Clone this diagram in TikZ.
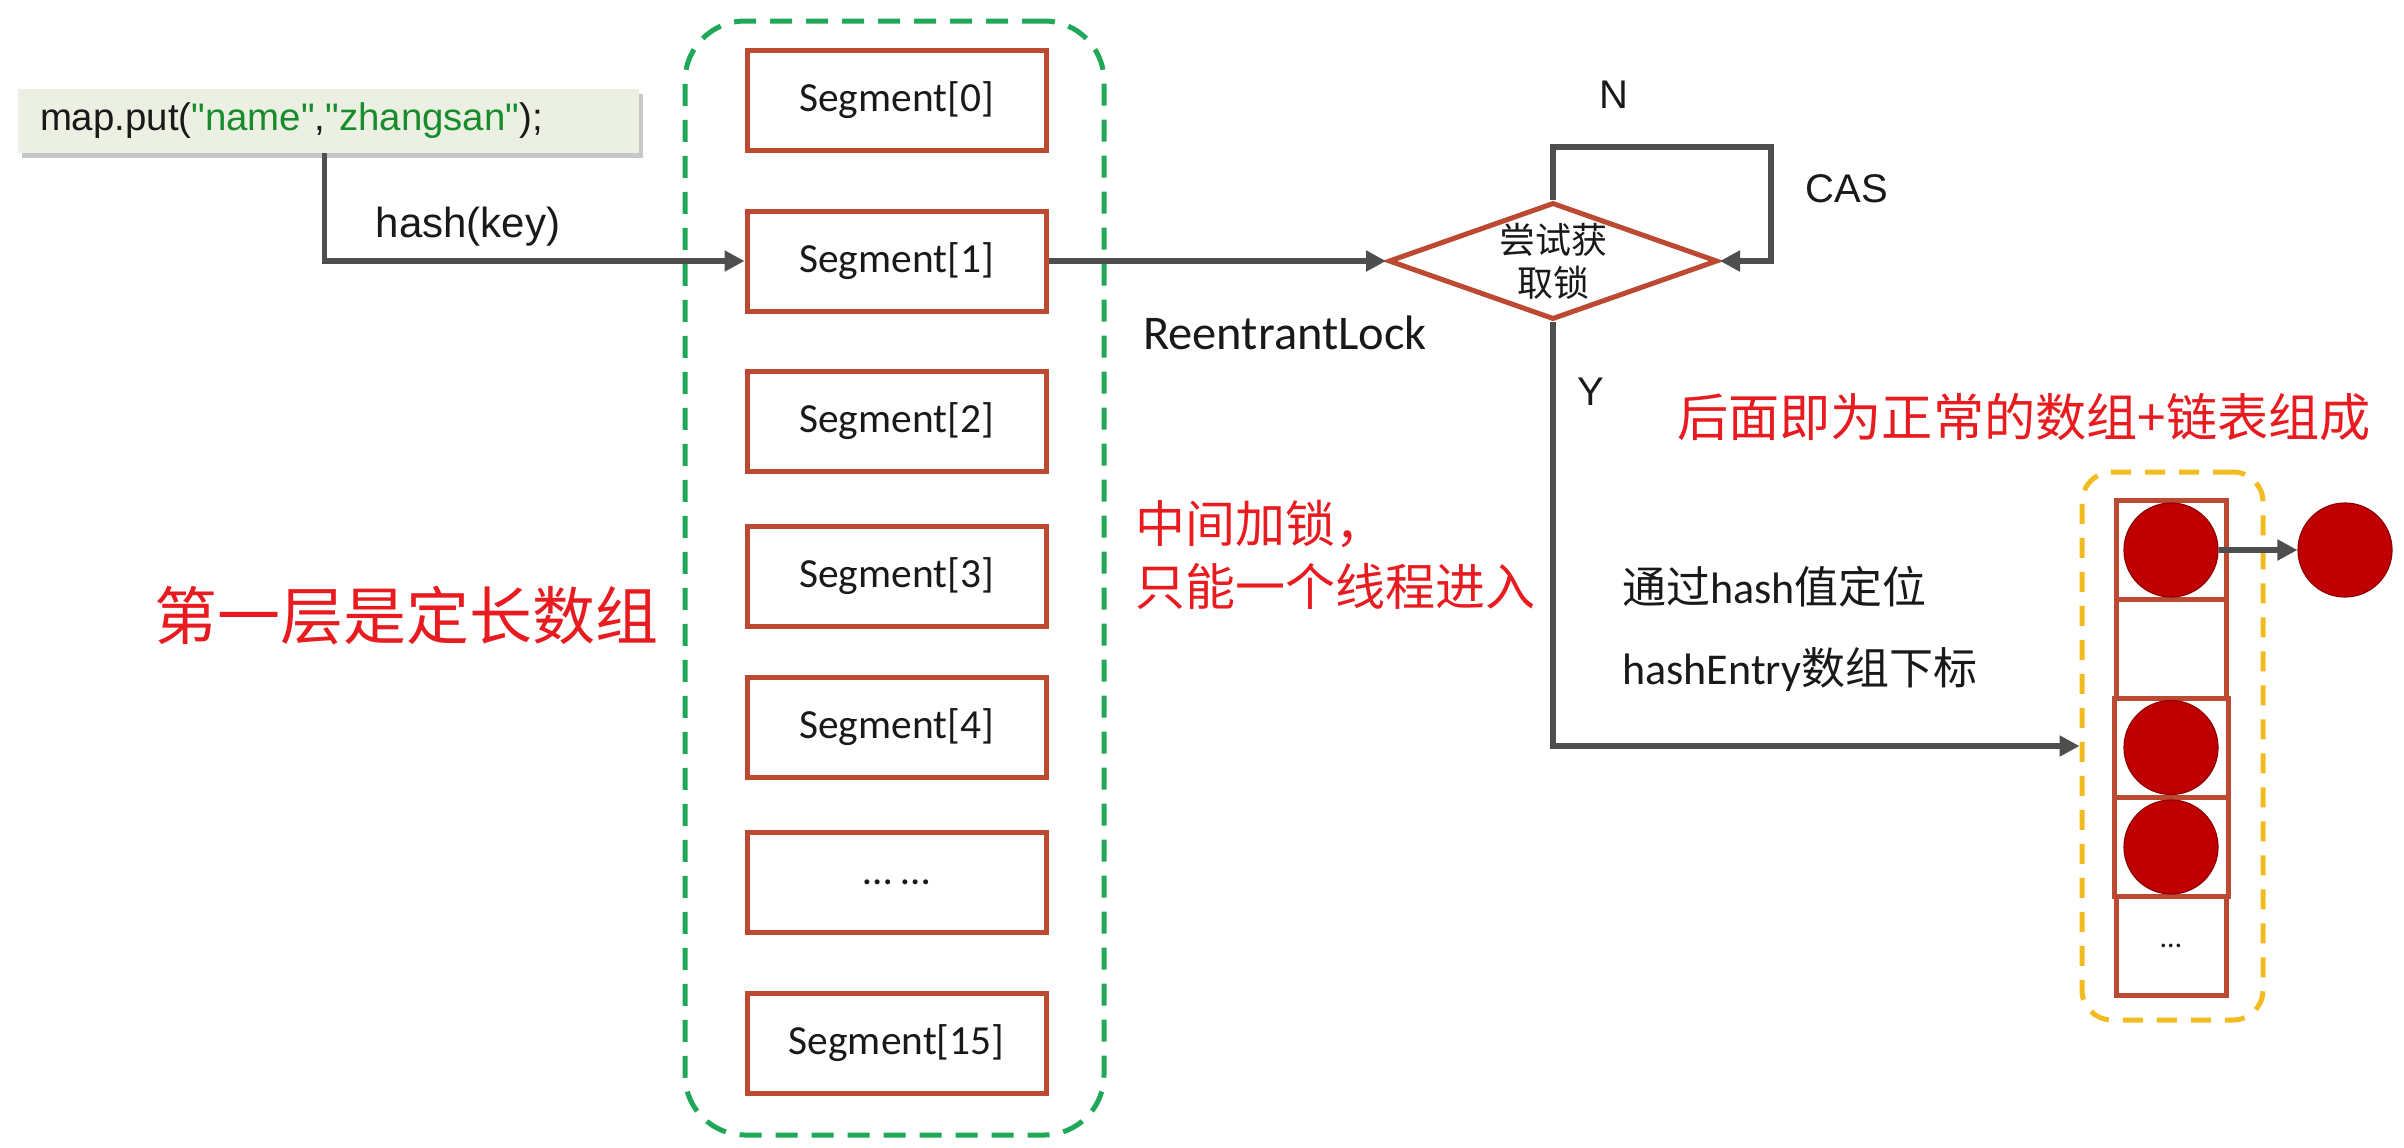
\documentclass[tikz,border=0pt]{standalone}
\usepackage{fontspec}
\setmainfont{Carlito}
\newfontfamily\arial{Liberation Sans}
\newfontfamily\cjk{Noto Sans CJK SC}
\usetikzlibrary{arrows.meta,shapes.geometric,shadows}
\definecolor{segred}{RGB}{188,74,50}
\definecolor{dashgreen}{RGB}{30,168,88}
\definecolor{dashyellow}{RGB}{242,188,32}
\definecolor{linegray}{RGB}{78,78,78}
\definecolor{txtred}{RGB}{232,28,32}
\definecolor{txtblack}{RGB}{25,25,25}
\definecolor{codebg}{RGB}{236,240,226}
\definecolor{codegreen}{RGB}{24,140,44}
\definecolor{ballred}{RGB}{192,0,0}
\begin{document}
\begin{tikzpicture}[x=0.5pt,y=-0.5pt,
  seg/.style={draw=segred, line width=2.5pt, minimum width=149.5pt, minimum height=50pt, inner sep=0pt, font=\fontsize{20.7}{24}\selectfont, text=txtblack},
  conn/.style={draw=linegray, line width=2.6pt, -{Triangle[length=10pt,width=10pt]}},
  codebox/.style={fill=codebg, minimum width=310.5pt, minimum height=32pt, inner xsep=11pt, inner ysep=0pt, text width=288.5pt, align=left, font=\arial\fontsize{19.2}{22}\selectfont, text=txtblack, drop shadow={shadow xshift=2pt, shadow yshift=-2.5pt, fill=black, opacity=0.22}},
  gbox/.style={draw=dashgreen, line width=2.5pt, dash pattern=on 11pt off 7pt, rounded corners=30pt, minimum width=209.5pt, minimum height=557pt, inner sep=0pt},
  ybox/.style={draw=dashyellow, line width=2.5pt, dash pattern=on 10pt off 7pt, rounded corners=15pt, minimum width=90.5pt, minimum height=274pt, inner sep=0pt},
  cell/.style={draw=segred, line width=2.5pt, minimum width=55pt, minimum height=49.5pt, inner sep=0pt, font=\fontsize{15}{17}\selectfont, text=txtblack},
  ball/.style={circle, fill=ballred, draw=ballred!75!black, line width=0.6pt, minimum size=47pt, inner sep=0pt},
  lbl/.style={font=\arial\fontsize{20}{24}\selectfont, text=txtblack, inner sep=0pt},
  redtxt/.style={text=txtred, inner sep=0pt},
]
\fill[white] (0,0) rectangle (2404,1147);
\useasboundingbox (0,0) rectangle (2404,1147);

% code box
\node[codebox] (code) at (328.5,121) {map.put({\color{codegreen}"name"},{\color{codegreen}"zhangsan"});};

% green container and segments
\node[gbox] (grp) at (894.5,578) {};
\node[seg] (s0) at (896.5,100) {Segment[0]};
\node[seg] (s1) at (896.5,261) {Segment[1]};
\node[seg] (s2) at (896.5,421) {Segment[2]};
\node[seg] (s3) at (896.5,576) {Segment[3]};
\node[seg] (s4) at (896.5,727) {Segment[4]};
\node[seg] (s5) at (896.5,882) {\textellipsis\ \textellipsis};
\node[seg] (s15) at (896.5,1043) {Segment[15]};

% hash arrow
\draw[conn] ([xshift=153.5pt]code.south west) |- (s1.west);
\node[lbl, font=\arial\fontsize{21}{24}\selectfont] (hk) at (468,227) {hash(key)};

% diamond
\node[diamond, draw=segred, line width=2.5pt, aspect=2.81, minimum width=164.5pt, minimum height=58.5pt, inner sep=0pt] (dia) at (1553,261) {};
\node[align=center, inner sep=0pt, text=txtblack, font=\cjk\fontsize{18}{21.5}\selectfont] (dtext) at (dia.center) {尝试获\\取锁};
\draw[conn] (s1.east) -- (dia.west);
\node[font=\fontsize{24.2}{28}\selectfont, text=txtblack, inner sep=0pt] (rl) at (1285,333) {ReentrantLock};

% CAS loop
\coordinate (loopc) at (1771,147);
\draw[conn] (dia.north) |- (loopc) |- (dia.east);
\node[lbl] (nl) at (1614,95) {N};
\node[lbl] (casl) at (1847,189) {CAS};
\node[lbl] (yl) at (1591,392) {Y};

% right array
\node[ybox] (yel) at (2172.5,746) {};
\node[cell] (c1) at (2171,550) {};
\node[cell] (c2) at (2171,648.5) {};
\node[cell, minimum width=57pt] (c3) at (2171,747.5) {};
\node[cell, minimum width=57pt] (c4) at (2171,847) {};
\node[cell] (c5) at (2171,946) {\textellipsis};
\node[ball] (b1) at (c1.center) {};
\node[ball] (b3) at (c3.center) {};
\node[ball] (b4) at (c4.center) {};
\node[ball] (b2) at (2345,550) {};
\draw[conn] (b1.east) -- (b2.west);

\draw[conn] (dia.south) |- (yel.west);

% black notes
\node[anchor=west, inner sep=0pt, text=txtblack, font=\fontsize{22}{26}\selectfont] (t1) at (1622,587) {{\cjk 通过}hash{\cjk 值定位}};
\node[anchor=west, inner sep=0pt, text=txtblack, font=\fontsize{22}{26}\selectfont] (t2) at (1622,670) {hashEntry{\cjk 数组下标}};

% red notes
\node[redtxt, anchor=north west, align=left, font=\cjk\fontsize{25}{31.5}\selectfont] (r1) at (1135,500) {中间加锁，\\只能一个线程进入};
\node[redtxt, font=\cjk\fontsize{31.5}{36}\selectfont] (r2) at (406,616) {第一层是定长数组};
\node[redtxt, font=\cjk\fontsize{25.6}{30}\selectfont] (r3) at (2024,417) {后面即为正常的数组+链表组成};
\end{tikzpicture}
\end{document}
